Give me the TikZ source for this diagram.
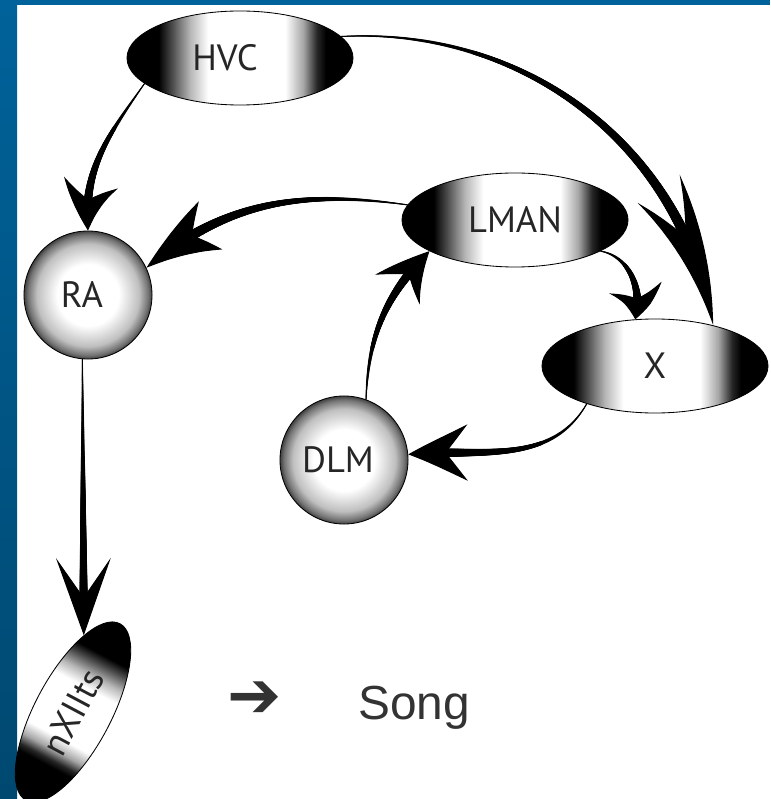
\documentclass[tikz,border=0pt]{standalone}
\usepackage{fontspec}
\newfontfamily\labelfont{PT Sans}
\newfontfamily\songfont{Liberation Sans}
\newfontfamily\symfont{DejaVu Sans}
\usetikzlibrary{arrows.meta,bending,decorations.markings,shapes.geometric}
\definecolor{frameblue}{HTML}{00629A}
\definecolor{framedark}{HTML}{004870}
\definecolor{inkgrey}{HTML}{333333}
\def\nucfont{\labelfont\fontsize{26}{26}\selectfont}
\pgfdeclarehorizontalshading{capsule}{100bp}{color(0bp)=(black); color(32bp)=(black); color(35bp)=(black!70); color(39bp)=(black!28); color(43bp)=(white); color(60bp)=(white); color(64bp)=(black!35); color(67bp)=(black!85); color(69bp)=(black); color(100bp)=(black)}
\pgfdeclareradialshading{orb}{\pgfpoint{0bp}{0bp}}{color(0bp)=(white); color(12bp)=(white); color(20bp)=(black!25); color(23.5bp)=(black!55); color(25bp)=(black!75); color(50bp)=(black!75)}
\tikzset{
  nucleus/.style={ellipse, draw=black, line width=0.6pt, shade, shading=capsule, inner sep=0pt, minimum width=5.65cm, minimum height=2.35cm, font=\nucfont, text=black!85},
  sphere/.style={circle, draw=black, line width=0.6pt, shade, shading=orb, inner sep=0pt, minimum size=3.2cm, font=\nucfont, text=black!85},
  link/.style 2 args={line width=0.7pt, postaction={decorate, decoration={markings, mark=between positions 0 and #2 step 0.4pt with {\pgfmathsetmacro\thick{0.35+#1*\pgfkeysvalueof{/pgf/decoration/mark info/distance from start}/\pgfdecoratedpathlength}\fill circle (\thick pt);}}}}
}
\begin{document}
\begin{tikzpicture}[x=0.025cm, y=0.025cm]
		%%%%% START %%%%%
		\useasboundingbox (0, 0) rectangle (770, -799);
		\fill[white] (0, 0) rectangle (770, -799);
		\shade[top color=frameblue, bottom color=framedark] (0, 0) rectangle (17, -799);
		\fill[frameblue] (0, 0) rectangle (770, -5);

		\node[nucleus] (hvc) at (240, -58) {HVC\hspace*{0.75cm}};
		\node[nucleus] (lman) at (515, -220) {LMAN};
		\node[nucleus] (x) at (655, -366) {X};
		\node[sphere] (ra) at (88, -295) {RA\hspace*{0.3cm}};
		\node[sphere] (dlm) at (344, -460) {DLM\hspace*{0.3cm}};
		\node[nucleus, rotate=62, shading angle=242, minimum width=5.0cm, minimum height=1.9cm] (nx) at (73, -712) {nXIIts};

		\draw[link={3.2}{-18pt}, -{Stealth[length=37pt, width=39pt, inset=14pt, bend]}] (hvc.195) to[out=235, in=95] (ra.north);
		\draw[link={4.2}{-60pt}, -{Stealth[length=110pt, width=36pt, inset=42pt, bend]}] (hvc.12) to[out=3, in=100] (x.35);
		\draw[link={4.0}{-36pt}, -{Stealth[length=59pt, width=38pt, inset=17pt, bend]}] (lman.172) to[out=172, in=40] (ra.25);
		\draw[link={3.2}{-10pt}, -{Stealth[length=23pt, width=38pt, inset=8pt, bend]}] (lman.340) to[out=-10, in=75] (x.113);
		\draw[link={3.4}{-18pt}, -{Stealth[length=38pt, width=38pt, inset=15pt, bend]}] (dlm.70) to[out=88, in=225] (lman.200);
		\draw[link={3.4}{-22pt}, -{Stealth[length=43pt, width=40pt, inset=16pt, bend]}] (x.209) to[out=240, in=5] (dlm.5);
		\draw[link={3.0}{-22pt}, -{Stealth[length=55pt, width=39pt, inset=28pt]}] (ra.265) -- (nx.20);

		\node[font=\symfont\fontsize{46}{46}\selectfont, text=inkgrey] (cue) at (255, -700) {➔};
		\node[anchor=base west, inner sep=0pt, font=\songfont\fontsize{34}{34}\selectfont, text=inkgrey] (song) at (358, -719) {Song};
		%%%%% END %%%%%
\end{tikzpicture}
\end{document}
